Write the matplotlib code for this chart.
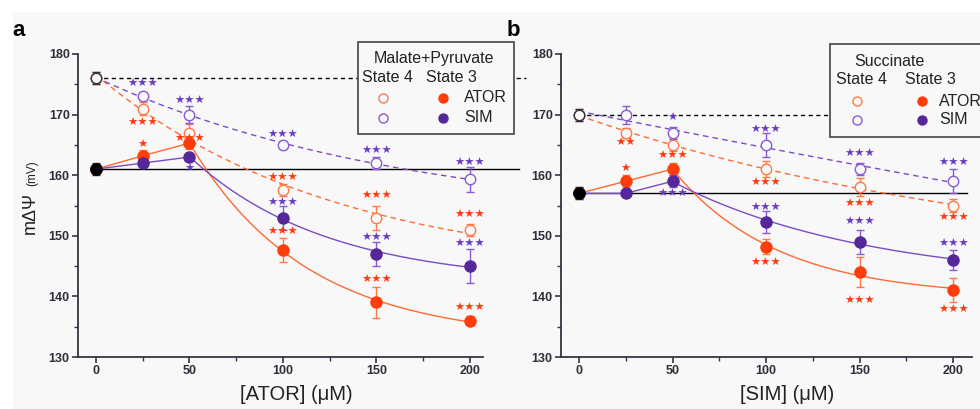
import numpy as np
import matplotlib
matplotlib.use("Agg")
import matplotlib.pyplot as plt
from matplotlib.patches import Rectangle
from matplotlib.lines import Line2D

plt.rcParams['font.family'] = ['Liberation Sans', 'DejaVu Sans']

# ---------------- data ----------------
conc = [0, 25, 50, 100, 150, 200]

# Panel a: Malate+Pyruvate, x = [ATOR]
a_s4_ator = [176, 171, 167, 157.5, 153, 151]
a_s4_ator_err = [1.0, 1.0, 1.5, 1.0, 2.0, 1.0]
a_s4_sim = [176, 173, 170, 165, 162, 159.3]
a_s4_sim_err = [0.5, 0.6, 1.4, 0.6, 1.0, 2.0]
a_s3_ator = [161, 163.2, 165.3, 147.6, 139, 136]
a_s3_ator_err = [0.8, 1.0, 1.0, 2.0, 2.5, 0.8]
a_s3_sim = [161, 162, 163, 153, 147, 145]
a_s3_sim_err = [0.5, 0.5, 0.5, 2.0, 2.0, 2.8]
a_ctrl_s4, a_ctrl_s4_err = 176, 1.0
a_ctrl_s3, a_ctrl_s3_err = 161, 1.0

# Panel b: Succinate, x = [SIM]
b_s4_ator = [170, 167, 165, 161, 158, 155]
b_s4_ator_err = [1.0, 0.8, 1.0, 1.3, 1.5, 1.0]
b_s4_sim = [170, 170, 167, 165, 161, 159]
b_s4_sim_err = [0.5, 1.5, 1.0, 2.0, 1.0, 2.0]
b_s3_ator = [157, 159, 161, 148.2, 144, 141]
b_s3_ator_err = [1.0, 1.0, 1.0, 1.2, 2.5, 2.0]
b_s3_sim = [157, 157, 159, 152.3, 149, 146]
b_s3_sim_err = [0.5, 0.5, 1.0, 1.8, 2.0, 1.7]
b_ctrl_s4, b_ctrl_s4_err = 170, 1.0
b_ctrl_s3, b_ctrl_s3_err = 157, 1.0

# significance annotations: (x, y, label, series)
a_stars = [
    (25, 175.0, '***', 'sim'), (25, 168.6, '***', 'ator'), (25, 165.0, '*', 'ator'),
    (50, 172.2, '***', 'sim'), (50, 166.0, '***', 'ator'), (50, 161.0, '*', 'sim'),
    (100, 166.6, '***', 'sim'), (100, 159.5, '***', 'ator'), (100, 155.4, '***', 'sim'),
    (100, 150.6, '***', 'ator'),
    (150, 164.0, '***', 'sim'), (150, 156.6, '***', 'ator'), (150, 149.6, '***', 'sim'),
    (150, 142.7, '***', 'ator'),
    (200, 162.0, '***', 'sim'), (200, 153.4, '***', 'ator'), (200, 148.6, '***', 'sim'),
    (200, 138.1, '***', 'ator'),
]
b_stars = [
    (25, 165.3, '**', 'ator'), (25, 161.0, '*', 'ator'),
    (50, 169.4, '*', 'sim'), (50, 163.2, '***', 'ator'), (50, 156.9, '***', 'sim'),
    (100, 167.5, '***', 'sim'), (100, 158.7, '***', 'ator'), (100, 154.6, '***', 'sim'),
    (100, 145.5, '***', 'ator'),
    (150, 163.5, '***', 'sim'), (150, 155.2, '***', 'ator'), (150, 152.3, '***', 'sim'),
    (150, 139.2, '***', 'ator'),
    (200, 162.0, '***', 'sim'), (200, 152.9, '***', 'ator'), (200, 148.6, '***', 'sim'),
    (200, 137.8, '***', 'ator'),
]

xticks = [0, 50, 100, 150, 200]
yticks = [130, 140, 150, 160, 170, 180]

# ---------------- styles ----------------
OR_FILL = '#ff3d0a'
OR_OPEN = '#ff7a45'
OR_LINE = '#ff6a33'
PU_FILL = '#56279a'
PU_OPEN = '#8a5ad4'
PU_LINE = '#7a4cc4'
OR_STAR = '#ff3a10'
PU_STAR = '#6a3cc4'
AX_COL = '#3a3142'
BG = '#f8f8f8'

W, H = 980, 409
fig = plt.figure(figsize=(W / 100, H / 100), dpi=100, facecolor=BG)
fig.patches.append(Rectangle((0, 0), 13 / W, 1, transform=fig.transFigure,
                             facecolor='white', edgecolor='none', zorder=-10))
fig.patches.append(Rectangle((0, 1 - 12 / H), 1, 12 / H, transform=fig.transFigure,
                             facecolor='white', edgecolor='none', zorder=-10))


def px(x, y):
    return x / W, 1 - y / H


def exp_fit(x, y):
    x = np.asarray(x, float)
    y = np.asarray(y, float)
    best = None
    for k in np.concatenate([np.linspace(-0.02, -0.0005, 80), np.linspace(0.0005, 0.06, 200)]):
        A = np.column_stack([np.ones_like(x), np.exp(-k * x)])
        coef, res, *_ = np.linalg.lstsq(A, y, rcond=None)
        r = np.sum((A @ coef - y) ** 2)
        if best is None or r < best[0]:
            best = (r, k, coef)
    _, k, coef = best
    return lambda xx: coef[0] + coef[1] * np.exp(-k * np.asarray(xx, float))


def panel(ax, s4a, s4ae, s4s, s4se, s3a, s3ae, s3s, s3se, c4, c4e, c3, c3e,
          stars, xlim, ref_end4, ref_end3, xlabel):
    x = np.array(conc, float)
    # reference lines
    ax.plot([0, ref_end4], [c4, c4], color='black', lw=1.0, ls=(0, (3, 2.5)),
            clip_on=False, zorder=2)
    ax.plot([0, ref_end3], [c3, c3], color='black', lw=1.0, clip_on=False, zorder=2)
    # state 4 dashed fits
    xx = np.linspace(0, 200, 200)
    ax.plot(xx, exp_fit(x, s4a)(xx), color=OR_LINE, lw=1.0, ls=(0, (4, 3)), zorder=3)
    ax.plot(xx, exp_fit(x, s4s)(xx), color=PU_LINE, lw=1.0, ls=(0, (4, 3)), zorder=3)
    # state 3: straight segments then fit
    xx2 = np.linspace(50, 200, 200)
    ax.plot(x[:3], s3a[:3], color=OR_LINE, lw=1.0, zorder=3)
    ax.plot(xx2, exp_fit(x[2:], s3a[2:])(xx2), color=OR_LINE, lw=1.0, zorder=3)
    ax.plot(x[:3], s3s[:3], color=PU_LINE, lw=1.0, zorder=3)
    ax.plot(xx2, exp_fit(x[2:], s3s[2:])(xx2), color=PU_LINE, lw=1.0, zorder=3)
    # points
    ax.errorbar(x, s4a, yerr=s4ae, fmt='o', ms=7.5, mfc=BG, mec=OR_OPEN, mew=1.0,
                ecolor=OR_OPEN, elinewidth=1.0, capsize=3, zorder=4)
    ax.errorbar(x, s4s, yerr=s4se, fmt='o', ms=7.5, mfc=BG, mec=PU_OPEN, mew=1.0,
                ecolor=PU_OPEN, elinewidth=1.0, capsize=3, zorder=4)
    ax.errorbar(x, s3a, yerr=s3ae, fmt='o', ms=8, mfc=OR_FILL, mec=OR_FILL,
                ecolor=OR_OPEN, elinewidth=1.0, capsize=3, zorder=5)
    ax.errorbar(x, s3s, yerr=s3se, fmt='o', ms=8, mfc=PU_FILL, mec=PU_FILL,
                ecolor=PU_OPEN, elinewidth=1.0, capsize=3, zorder=5)
    # controls
    ax.errorbar([0], [c4], yerr=[c4e], fmt='o', ms=7.5, mfc=BG, mec='#333333', mew=1.0,
                ecolor='#333333', elinewidth=1.0, capsize=3, zorder=6)
    ax.errorbar([0], [c3], yerr=[c3e], fmt='o', ms=8, mfc='black', mec='black',
                ecolor='#333333', elinewidth=1.0, capsize=3, zorder=6)
    # stars
    for sx, sy, lab, ser in stars:
        ax.text(sx, sy, '\u2605' * len(lab), color=OR_STAR if ser == 'ator' else PU_STAR,
                fontsize=8.2, family='DejaVu Sans', ha='center', va='center', zorder=7)
    # axes style
    ax.set_xlim(*xlim)
    ax.set_ylim(130, 180)
    ax.set_facecolor('none')
    for s in ('top', 'right'):
        ax.spines[s].set_visible(False)
    for s in ('left', 'bottom'):
        ax.spines[s].set_color(AX_COL)
        ax.spines[s].set_linewidth(1.3)
    ax.set_xticks(xticks)
    ax.set_yticks(yticks)
    ax.set_xticks([25, 75, 125, 175], minor=True)
    ax.set_yticks([135, 145, 155, 165, 175], minor=True)
    ax.tick_params(which='major', direction='out', length=4, width=1.2, color=AX_COL,
                   labelsize=9, labelcolor='#2e2e3a', pad=2)
    ax.tick_params(which='minor', direction='out', length=3, width=1.0, color=AX_COL)
    for lab in ax.get_xticklabels() + ax.get_yticklabels():
        lab.set_fontweight('bold')
    ax.set_xlabel(xlabel, fontsize=14.5, color='#222222')


axa = fig.add_axes([78 / W, 1 - 357 / H, 405 / W, 303 / H])
axb = fig.add_axes([561 / W, 1 - 357 / H, 411 / W, 303 / H])

panel(axa, a_s4_ator, a_s4_ator_err, a_s4_sim, a_s4_sim_err, a_s3_ator, a_s3_ator_err,
      a_s3_sim, a_s3_sim_err, a_ctrl_s4, a_ctrl_s4_err, a_ctrl_s3, a_ctrl_s3_err,
      a_stars, (-9.6, 207), 230, 226, '[ATOR] (\u03bcM)')
panel(axb, b_s4_ator, b_s4_ator_err, b_s4_sim, b_s4_sim_err, b_s3_ator, b_s3_ator_err,
      b_s3_sim, b_s3_sim_err, b_ctrl_s4, b_ctrl_s4_err, b_ctrl_s3, b_ctrl_s3_err,
      b_stars, (-9.6, 210), 207, 207.5, '[SIM] (\u03bcM)')
axa.xaxis.set_label_coords(0.54, -0.125)
axb.xaxis.set_label_coords(0.55, -0.125)
axa.xaxis.label.set_va('center')
axb.xaxis.label.set_va('center')

# y label (baseline-aligned pieces)
fig.text(*px(35, 234), 'm\u0394\u03a8', rotation=90, rotation_mode='anchor', fontsize=13,
         ha='left', va='baseline', color='#222222')
fig.text(*px(35, 186), '(mV)', rotation=90, rotation_mode='anchor', fontsize=8.5,
         ha='left', va='baseline', color='#222222')

# panel labels
fig.text(*px(12, 36), 'a', fontsize=16, fontweight='bold', ha='left', va='baseline')
fig.text(*px(507, 36), 'b', fontsize=16, fontweight='bold', ha='left', va='baseline')


# legends (drawn manually)
def legend_box(x0, y0, x1, y1, title, tx, ty, s4x, s3x, hy, my1, my2, labx):
    fig.patches.append(Rectangle(px(x0, y1), (x1 - x0) / W, (y1 - y0) / H,
                                 transform=fig.transFigure, facecolor=BG,
                                 edgecolor='#444444', lw=1.2, zorder=20))
    kw = dict(fontsize=11.5, color='#222222', va='center', zorder=21)
    fig.text(*px(tx, ty), title, ha='center', **kw)
    fig.text(*px(s4x, hy), 'State 4', ha='center', **kw)
    fig.text(*px(s3x, hy), 'State 3', ha='center', **kw)
    fig.text(*px(labx, my1), 'ATOR', ha='left', **kw)
    fig.text(*px(labx, my2), 'SIM', ha='left', **kw)
    ox = s4x - 4
    fx = s3x - 8
    for (mx, my, mfc, mec) in [(ox, my1, BG, OR_OPEN), (ox, my2, BG, PU_OPEN),
                               (fx, my1, OR_FILL, OR_FILL), (fx, my2, PU_FILL, PU_FILL)]:
        fig.add_artist(Line2D([mx / W], [1 - my / H], marker='o', ms=6.5, mfc=mfc, mec=mec,
                              mew=1.0, transform=fig.transFigure, zorder=22, ls='none'))


legend_box(358, 42, 514, 134, 'Malate+Pyruvate', 434, 58, 387, 451, 78, 98, 118, 464)
legend_box(830, 44, 990, 137, 'Succinate', 889, 61, 861, 930, 80, 101, 120, 939)

fig.savefig('out.png', dpi=100, facecolor=fig.get_facecolor())
